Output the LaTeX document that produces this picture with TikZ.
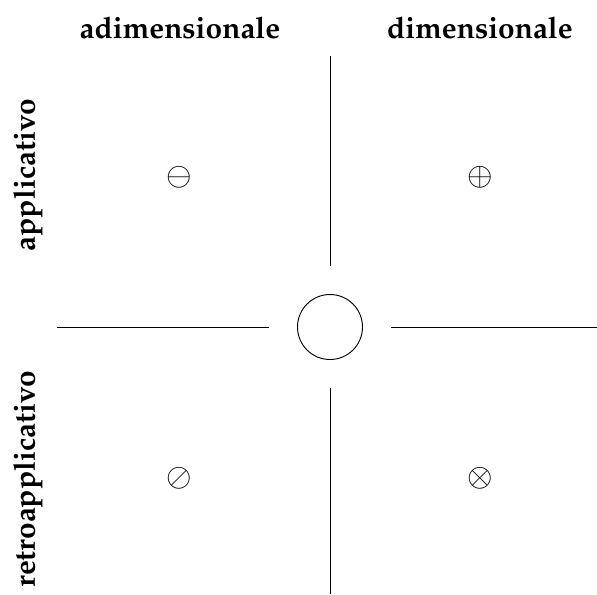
\documentclass[tikz,border=0pt]{standalone}
\usepackage[T1]{fontenc}
\usepackage{mathpazo}

\begin{document}
\begin{tikzpicture}[x=0.015075cm, y=-0.015075cm,
  head/.style={font=\bfseries\fontsize{12.8}{15}\selectfont},
  sym/.style={inner sep=0pt, font=\fontsize{13.5}{15}\selectfont}]

\useasboundingbox (0, 0) rectangle (597, 594);

\node[head] (ta) at (180, 28) {adimensionale};
\node[head] (td) at (480, 28) {dimensionale};
\node[head, rotate=90] (la) at (28, 175) {applicativo};
\node[head, rotate=90] (lr) at (28, 479) {retroapplicativo};

\node[draw, circle, minimum size=65*0.015075cm, inner sep=0pt] (c) at (330, 327) {};

\coordinate (top) at (330, 56);
\coordinate (bot) at (330, 594);
\coordinate (lft) at (57, 327);
\coordinate (rgt) at (597, 327);

\draw (top) -- ([yshift=28*0.015075cm]c.north);
\draw (bot) -- ([yshift=-28*0.015075cm]c.south);
\draw (lft) -- ([xshift=-28*0.015075cm]c.west);
\draw (rgt) -- ([xshift=28*0.015075cm]c.east);

\node[sym] (s1) at (179, 177) {$\ominus$};
\node[sym] (s2) at (480, 177) {$\oplus$};
\node[sym] (s3) at (179, 478) {$\oslash$};
\node[sym] (s4) at (480, 478) {$\otimes$};

\end{tikzpicture}
\end{document}
